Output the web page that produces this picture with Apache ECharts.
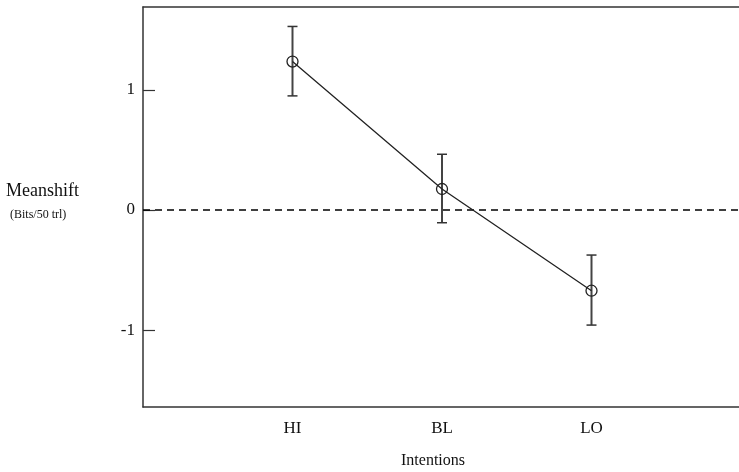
<!DOCTYPE html>
<html>
<head>
<meta charset="utf-8">
<script src="https://cdn.jsdelivr.net/npm/echarts@6/dist/echarts.min.js"></script>
<style>
  html, body { margin: 0; padding: 0; background: #fff; }
  #chart { width: 739px; height: 472px; }
</style>
</head>
<body>
<div id="chart"></div>
<script>
// 数据
const categories = ['HI', 'BL', 'LO'];
const xPositions = [1, 2, 3];
const meanValues = [1.236, 0.175, -0.672];
const upperValues = [1.528, 0.464, -0.375];
const lowerValues = [0.95, -0.106, -0.958];
const yTicks = [-1, 0, 1];

const FONT = '"Liberation Serif", "DejaVu Serif", serif';

function initChart() {
  const chartDom = document.getElementById('chart');
  const myChart = echarts.init(chartDom);

  const meanData = xPositions.map((x, i) => [x, meanValues[i]]);
  const errData = xPositions.map((x, i) => [x, lowerValues[i], upperValues[i]]);

  const option = {
    backgroundColor: '#fff',
    animation: false,
    grid: { left: 143, top: 7, width: 598, height: 400, containLabel: false, outerBoundsMode: 'none' },
    xAxis: [
      {
        type: 'value',
        min: 0,
        max: 4,
        interval: 1,
        position: 'bottom',
        axisLine: { show: true, onZero: false, lineStyle: { color: '#333', width: 1.5 } },
        axisTick: { show: false },
        splitLine: { show: false },
        axisLabel: {
          margin: 13,
          fontFamily: FONT,
          fontSize: 17,
          color: '#111',
          formatter: function (v) {
            const idx = xPositions.indexOf(v);
            return idx >= 0 ? categories[idx] : '';
          }
        }
      },
      {
        type: 'value',
        min: 0,
        max: 4,
        position: 'top',
        axisLine: { show: true, onZero: false, lineStyle: { color: '#333', width: 1.5 } },
        axisTick: { show: false },
        axisLabel: { show: false },
        splitLine: { show: false }
      }
    ],
    yAxis: {
      type: 'value',
      min: -1.64,
      max: 1.69,
      axisLine: { show: true, onZero: false, lineStyle: { color: '#333', width: 1.5 } },
      axisTick: {
        show: true,
        inside: true,
        length: 12,
        lineStyle: { color: '#333', width: 1.2 },
        customValues: yTicks
      },
      axisLabel: {
        margin: 8,
        fontFamily: FONT,
        fontSize: 17,
        color: '#111',
        customValues: yTicks
      },
      splitLine: { show: false }
    },
    graphic: [
      {
        type: 'text',
        left: 6,
        top: 182,
        style: { text: 'Meanshift', font: '18px ' + FONT, fill: '#111' }
      },
      {
        type: 'text',
        left: 10,
        top: 209,
        style: { text: '(Bits/50 trl)', font: '12px ' + FONT, fill: '#111' }
      },
      {
        type: 'text',
        left: 401,
        top: 453,
        style: { text: 'Intentions', font: '16px ' + FONT, fill: '#111' }
      }
    ],
    series: [
      {
        name: 'zero',
        type: 'line',
        data: [[0, 0], [4, 0]],
        symbol: 'none',
        lineStyle: { color: '#000', width: 1.5, type: [7, 5] },
        z: 1
      },
      {
        name: 'error',
        type: 'custom',
        data: errData,
        renderItem: function (params, api) {
          const x = api.value(0);
          const lo = api.coord([x, api.value(1)]);
          const hi = api.coord([x, api.value(2)]);
          const half = 5;
          const capStyle = { stroke: '#333', lineWidth: 1.5 };
          return {
            type: 'group',
            children: [
              { type: 'line', shape: { x1: lo[0], y1: lo[1], x2: hi[0], y2: hi[1] }, style: { stroke: '#444', lineWidth: 2 } },
              { type: 'line', shape: { x1: hi[0] - half, y1: hi[1], x2: hi[0] + half, y2: hi[1] }, style: capStyle },
              { type: 'line', shape: { x1: lo[0] - half, y1: lo[1], x2: lo[0] + half, y2: lo[1] }, style: capStyle }
            ]
          };
        },
        z: 2
      },
      {
        name: 'mean',
        type: 'line',
        data: meanData,
        symbol: 'circle',
        symbolSize: 11,
        itemStyle: { color: 'rgba(255,255,255,0)', borderColor: '#222', borderWidth: 1.3 },
        lineStyle: { color: '#222', width: 1.3 },
        z: 3
      }
    ]
  };

  myChart.setOption(option);
}

initChart();
</script>
</body>
</html>
